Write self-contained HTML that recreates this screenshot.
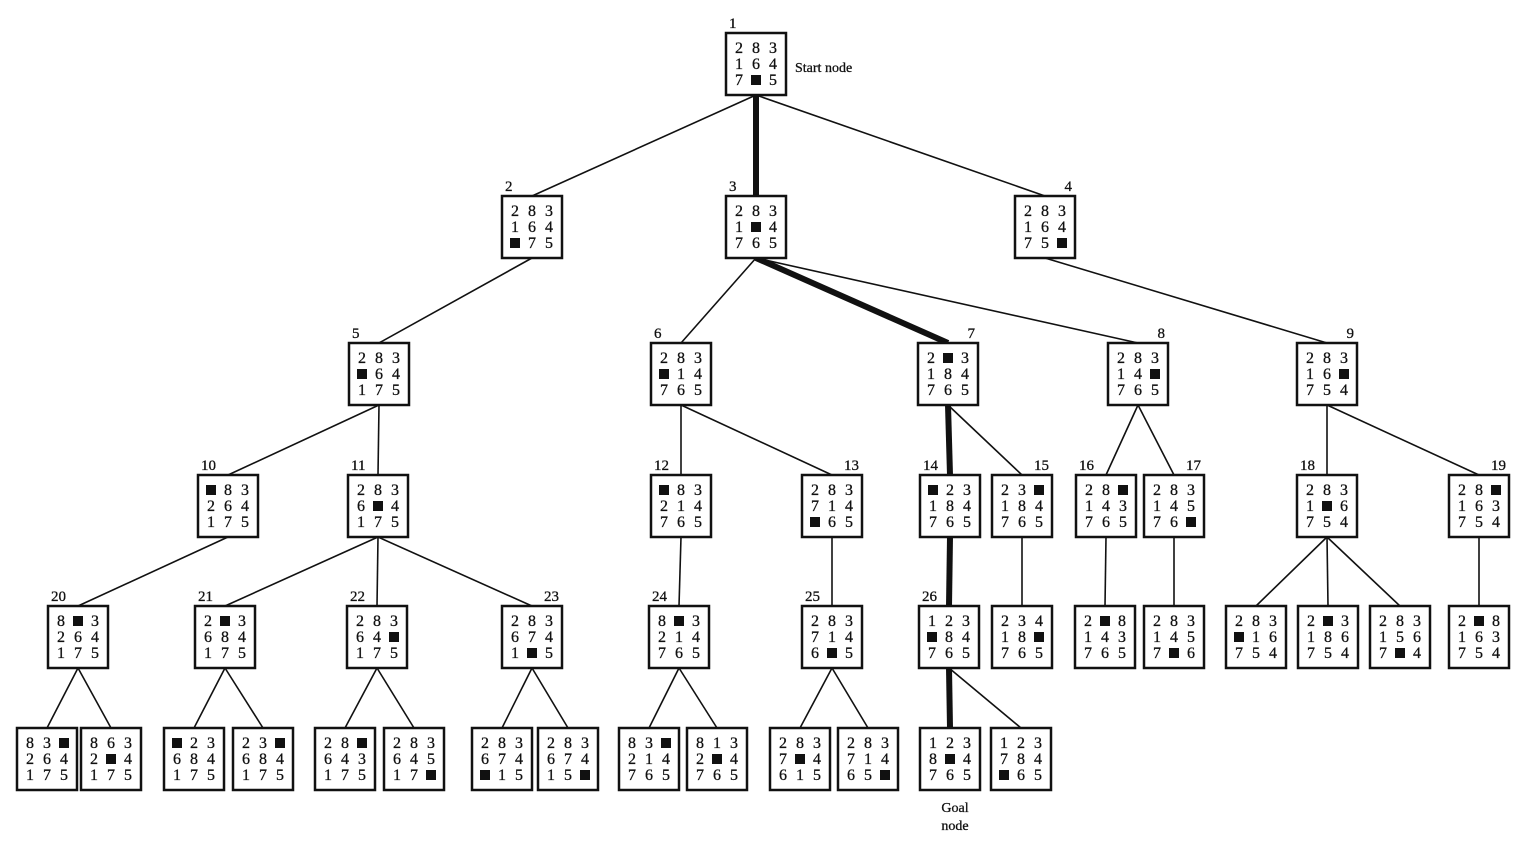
<!DOCTYPE html>
<html><head><meta charset="utf-8">
<style>
html,body{margin:0;padding:0;background:#fff;}
svg text{font-family:"Liberation Serif",serif;fill:#111;stroke:#111;stroke-width:0.3;}
</style></head>
<body>
<svg id="s" width="1523" height="837" xmlns="http://www.w3.org/2000/svg">
<text x="795" y="72" font-size="14">Start node</text>
<text x="955" y="812" font-size="14" text-anchor="middle">Goal</text>
<text x="955" y="830" font-size="14" text-anchor="middle">node</text>
</svg>
<script>
var N={
"1":[726,33,"2831647_5","1","L"],
"2":[502,196,"283164_75","2","L"],
"3":[726,196,"2831_4765","3","L"],
"4":[1015,196,"28316475_","4","R"],
"5":[349,343,"283_64175","5","L"],
"6":[651,343,"283_14765","6","L"],
"7":[918,343,"2_3184765","7","R"],
"8":[1108,343,"28314_765","8","R"],
"9":[1297,343,"28316_754","9","R"],
"10":[198,475,"_83264175","10","L"],
"11":[348,475,"2836_4175","11","L"],
"12":[651,475,"_83214765","12","L"],
"13":[802,475,"283714_65","13","R"],
"14":[920,475,"_23184765","14","L"],
"15":[992,475,"23_184765","15","R"],
"16":[1076,475,"28_143765","16","L"],
"17":[1144,475,"28314576_","17","R"],
"18":[1297,475,"2831_6754","18","L"],
"19":[1449,475,"28_163754","19","R"],
"20":[48,606,"8_3264175","20","L"],
"21":[195,606,"2_3684175","21","L"],
"22":[347,606,"28364_175","22","L"],
"23":[502,606,"2836741_5","23","R"],
"24":[649,606,"8_3214765","24","L"],
"25":[802,606,"2837146_5","25","L"],
"26":[919,606,"123_84765","26","L"],
"15c":[992,606,"23418_765","",""],
"16c":[1075,606,"2_8143765","",""],
"17c":[1144,606,"2831457_6","",""],
"18a":[1226,606,"283_16754","",""],
"18b":[1298,606,"2_3186754","",""],
"18c":[1370,606,"2831567_4","",""],
"19c":[1449,606,"2_8163754","",""],
"20a":[17,728,"83_264175","",""],
"20b":[81,728,"8632_4175","",""],
"21a":[164,728,"_23684175","",""],
"21b":[233,728,"23_684175","",""],
"22a":[315,728,"28_643175","",""],
"22b":[384,728,"28364517_","",""],
"23a":[472,728,"283674_15","",""],
"23b":[538,728,"28367415_","",""],
"24a":[619,728,"83_214765","",""],
"24b":[687,728,"8132_4765","",""],
"25a":[770,728,"2837_4615","",""],
"25b":[838,728,"28371465_","",""],
"26a":[920,728,"1238_4765","",""],
"26b":[991,728,"123784_65","",""]
};
var E=[["1","2"],["1","3",1],["1","4"],["2","5"],["3","6"],["3","7",1],["3","8"],["4","9"],
["5","10"],["5","11"],["6","12"],["6","13"],["7","14",1],["7","15"],["8","16"],["8","17"],["9","18"],["9","19"],
["10","20"],["11","21"],["11","22"],["11","23"],["12","24"],["13","25"],["14","26",1],["15","15c"],["16","16c"],["17","17c"],
["18","18a"],["18","18b"],["18","18c"],["19","19c"],
["20","20a"],["20","20b"],["21","21a"],["21","21b"],["22","22a"],["22","22b"],["23","23a"],["23","23b"],
["24","24a"],["24","24b"],["25","25a"],["25","25b"],["26","26a",1],["26","26b"]];
var W=60,H=62,h="";
E.forEach(function(e){var a=N[e[0]],b=N[e[1]];
h+='<line x1="'+(a[0]+W/2)+'" y1="'+(a[1]+H)+'" x2="'+(b[0]+W/2)+'" y2="'+b[1]+'" stroke="#111" stroke-width="'+(e[2]?6:1.6)+'"/>';});
for(var k in N){var n=N[k],x=n[0],y=n[1];
h+='<rect x="'+x+'" y="'+y+'" width="'+W+'" height="'+H+'" fill="#fff" stroke="#111" stroke-width="2.5"/>';
for(var i=0;i<9;i++){var c=n[2][i],cx=x+13+(i%3)*17,cy=y+15+Math.floor(i/3)*16;
if(c=="_")h+='<rect x="'+(cx-5)+'" y="'+(cy-5)+'" width="10" height="10" fill="#111"/>';
else h+='<text x="'+cx+'" y="'+(cy+5)+'" font-size="16" text-anchor="middle">'+c+'</text>';}
if(n[3]){var lx=n[4]=="L"?x+3:x+W-3;
h+='<text x="'+lx+'" y="'+(y-5)+'" font-size="15" text-anchor="'+(n[4]=="L"?"start":"end")+'">'+n[3]+'</text>';}}
document.getElementById("s").insertAdjacentHTML("beforeend",h);
</script>
</body></html>
